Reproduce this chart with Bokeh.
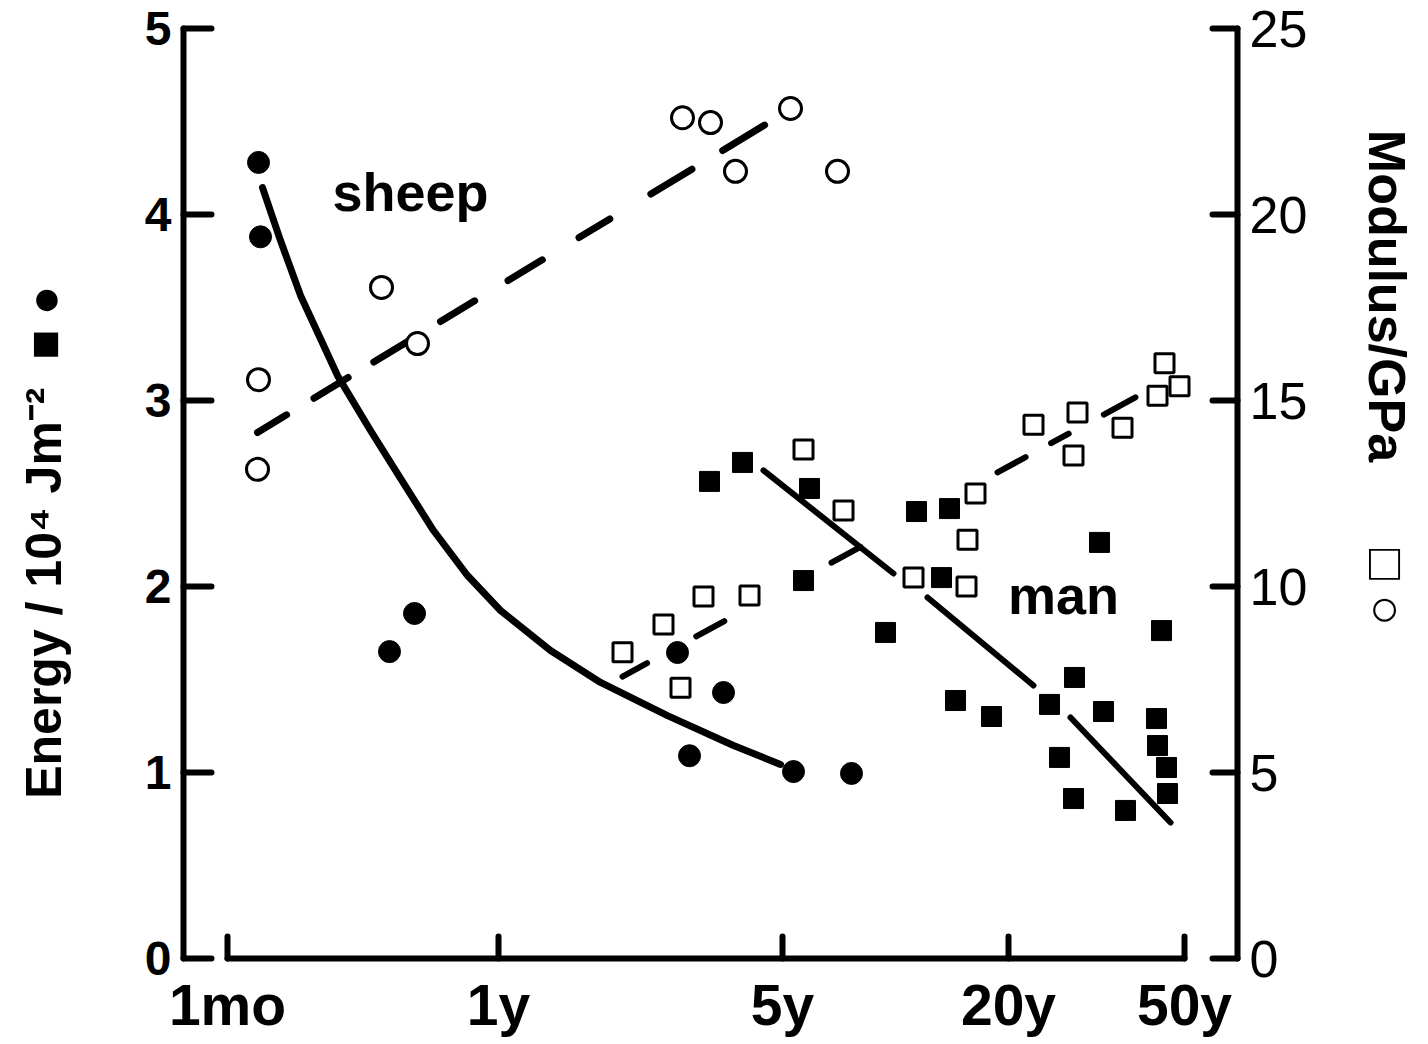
import numpy as np
from bokeh.plotting import figure
from bokeh.models import Range1d, LinearAxis, FixedTicker
from bokeh.core.properties import value
from bokeh.embed import file_html
from bokeh.resources import INLINE

FONT = "Liberation Sans"
NAN = np.nan

# x positions are in axis units along the (hand-drawn, log-like) age axis
x_tick_pos = [44, 315, 599, 825, 1001]
x_tick_labels = ["1mo", "1y", "5y", "20y", "50y"]
energy_ticks = [0, 1, 2, 3, 4, 5]
modulus_ticks = [0, 5, 10, 15, 20, 25]

# sheep, fracture energy (filled circles), 10^4 J m^-2
sheep_energy_x = [75, 77, 206, 231, 494, 540, 506, 610, 668]
sheep_energy_y = [4.28, 3.88, 1.65, 1.855, 1.645, 1.43, 1.09, 1.005, 0.995]

# sheep, modulus (open circles), GPa
sheep_mod_x = [75, 74, 198, 234, 499, 527, 552, 607, 654]
sheep_mod_y = [15.56, 13.15, 18.04, 16.53, 22.6, 22.47, 21.16, 22.85, 21.16]

# man, fracture energy (filled squares)
man_energy_x = [526, 559, 626, 620, 702, 733, 766, 758, 916, 978, 772,
                808, 866, 891, 920, 973, 876, 974, 983, 984, 890, 942]
man_energy_y = [2.565, 2.667, 2.527, 2.032, 1.753, 2.403, 2.419, 2.048, 2.237, 1.763, 1.387,
                1.301, 1.366, 1.511, 1.328, 1.290, 1.081, 1.145, 1.027, 0.887, 0.860, 0.796]

# man, modulus (open squares)
man_mod_x = [439, 480, 520, 566, 497, 620, 660, 730, 783, 784, 792,
             850, 894, 890, 939, 974, 981, 996]
man_mod_y = [8.23, 8.98, 9.73, 9.76, 7.28, 13.68, 12.04, 10.24, 10.0, 11.26, 12.5,
             14.35, 14.68, 13.52, 14.27, 15.13, 16.0, 15.38]

# hand-drawn trend lines
sheep_energy_fit_x = [79, 97, 117, 154, 187, 217, 250, 284, 317, 367, 417, 484, 550, 597]
sheep_energy_fit_y = [4.145, 3.860, 3.565, 3.134, 2.839, 2.581, 2.301, 2.059, 1.871,
                      1.656, 1.484, 1.306, 1.145, 1.043]
sheep_mod_fit_x = [74, 587]
sheep_mod_fit_y = [14.14, 22.5]
man_energy_fit_x = [580, 710, NAN, 744, 850, NAN, 887, 987]
man_energy_fit_y = [2.624, 2.070, NAN, 1.941, 1.468, NAN, 1.296, 0.731]
man_mod_fit_x = [439, 957]
man_mod_fit_y = [7.58, 15.16]

label_text = ["sheep", "man"]
label_x = [227, 880]
label_y = [4.12, 1.955]

NB = "\u00a0"
left_label = "Energy / 10\u2074 Jm\u207b\u00b2" + NB * 2 + "\u25a0" + NB + "\u25cf" + NB * 7
right_label = "Modulus/GPa" + NB * 6 + "\u25a1" + NB + "\u25cb" + NB * 16

p = figure(frame_width=1054, frame_height=930,
           x_range=Range1d(0, 1054), y_range=Range1d(0, 5),
           output_backend="svg", toolbar_location=None,
           min_border_left=183, min_border_right=185,
           min_border_top=28, min_border_bottom=84,
           background_fill_color="white", border_fill_color="white")
p.outline_line_color = None
p.xgrid.visible = False
p.ygrid.visible = False
p.extra_y_ranges = {"mod": Range1d(0, 25)}

def style_axis(ax, tick_in, font_size, weight, standoff):
    ax.axis_line_width = 6
    ax.axis_line_color = "black"
    ax.axis_line_cap = "round"
    ax.major_tick_line_width = 6
    ax.major_tick_line_color = "black"
    ax.major_tick_line_cap = "round"
    ax.major_tick_in = tick_in
    ax.major_tick_out = 0
    ax.minor_tick_line_color = None
    ax.major_label_text_font = FONT
    ax.major_label_text_font_size = font_size
    ax.major_label_text_font_style = weight
    ax.major_label_text_color = "black"
    ax.major_label_standoff = standoff

xa = p.xaxis[0]
xa.ticker = FixedTicker(ticks=x_tick_pos, minor_ticks=[])
xa.major_label_overrides = {t: l for t, l in zip(x_tick_pos, x_tick_labels)}
xa.bounds = (x_tick_pos[0], x_tick_pos[-1])
style_axis(xa, 22, "57px", "bold", 14)

ya = p.yaxis[0]
ya.ticker = FixedTicker(ticks=energy_ticks, minor_ticks=[])
style_axis(ya, 28, "48px", "bold", 12)
ya.axis_label = left_label
ya.axis_label_text_font = FONT
ya.axis_label_text_font_size = "50px"
ya.axis_label_text_font_style = "bold"
ya.axis_label_text_color = "black"
ya.axis_label_standoff = 70

ra = LinearAxis(y_range_name="mod", ticker=FixedTicker(ticks=modulus_ticks, minor_ticks=[]))
style_axis(ra, 25, "52px", "normal", 12)
ra.axis_label = right_label
ra.axis_label_text_font = FONT
ra.axis_label_text_font_size = "52px"
ra.axis_label_text_font_style = "bold"
ra.axis_label_text_color = "black"
ra.axis_label_standoff = 48
p.add_layout(ra, "right")

# trend lines
p.line(sheep_energy_fit_x, sheep_energy_fit_y, line_width=7, line_color="black",
       line_cap="round", line_join="round")
p.line(sheep_mod_fit_x, sheep_mod_fit_y, y_range_name="mod", line_width=7, line_color="black",
       line_cap="round", line_dash="34 32 40 30 42 36 40 39 40 43 36 48 48 36 49 100")
p.line(man_energy_fit_x, man_energy_fit_y, line_width=6, line_color="black",
       line_cap="round", line_join="round")
p.line(man_mod_fit_x, man_mod_fit_y, y_range_name="mod", line_width=6, line_color="black",
       line_cap="round", line_dash="28 56 32 122 33 156 32 29 20 40 36 100")

# points
p.scatter(sheep_energy_x, sheep_energy_y, marker="circle", size=22,
          fill_color="black", line_color="black")
p.scatter(sheep_mod_x, sheep_mod_y, y_range_name="mod", marker="circle", size=22,
          fill_color="white", line_color="black", line_width=3)
p.scatter(man_energy_x, man_energy_y, marker="square", size=20,
          fill_color="black", line_color="black")
p.scatter(man_mod_x, man_mod_y, y_range_name="mod", marker="square", size=19,
          fill_color="white", line_color="black", line_width=3)

p.text(label_x, label_y, text=label_text, text_font=value(FONT), text_font_style="bold",
       text_font_size="54px", text_align="center", text_baseline="alphabetic", text_color="black")

open("out.html", "w").write(file_html(p, INLINE))
